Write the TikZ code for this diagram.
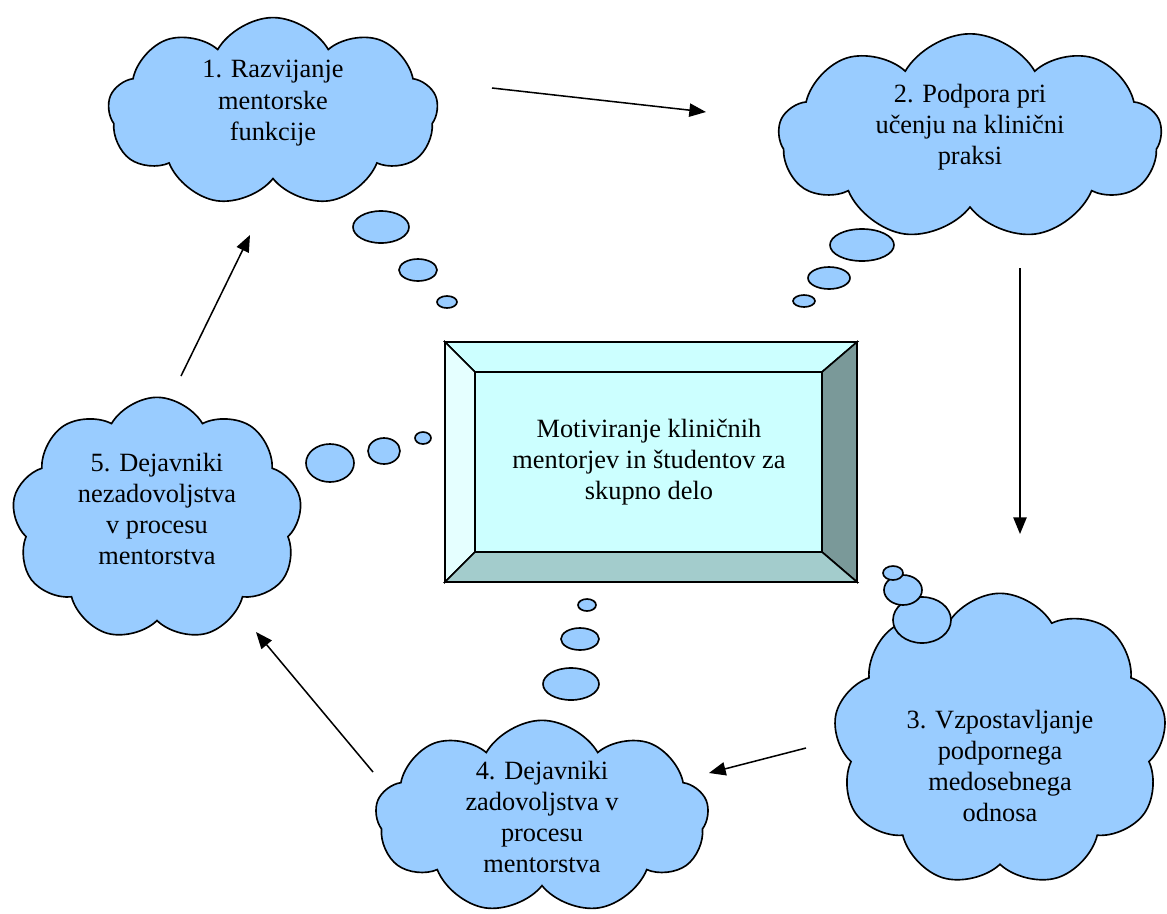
\documentclass[tikz,border=0pt]{standalone}
\usepackage{fontspec}
\setmainfont{Liberation Serif}
\usepackage{tikz}
\usetikzlibrary{arrows.meta,positioning,shapes.symbols,shapes.geometric}
\definecolor{cloudbg}{RGB}{153,204,255}
\definecolor{boxface}{RGB}{204,255,255}
\definecolor{boxleft}{RGB}{229,255,255}
\definecolor{boxright}{RGB}{122,153,153}
\definecolor{boxbottom}{RGB}{163,204,204}
\tikzset{
  thought/.style={
    cloud,
    cloud puffs=9,
    cloud puff arc=120,
    cloud ignores aspect,
    draw=black,
    fill=cloudbg,
    line width=1.4pt,
    align=center,
    font=\rmfamily\fontsize{22.5}{26.5}\selectfont
  },
  bubble/.style={draw=black, fill=cloudbg, line width=1.4pt},
  bevel/.style={draw=black, line width=1.4pt},
  arrow/.style={-{Triangle[length=5mm,width=4mm]}, line width=1.3pt}
}
\begin{document}
\begin{tikzpicture}[x=0.03cm, y=-0.03cm]
  \useasboundingbox (0,0) rectangle (1167,913);

  \coordinate (A) at (445,342);
  \coordinate (B) at (857,342);
  \coordinate (C) at (857,582);
  \coordinate (D) at (445,582);
  \coordinate (a) at (475,372);
  \coordinate (b) at (822,372);
  \coordinate (c) at (822,552);
  \coordinate (d) at (475,552);
  \filldraw[bevel, fill=boxface] (A) -- (B) -- (b) -- (a) -- cycle;
  \filldraw[bevel, fill=boxleft] (A) -- (a) -- (d) -- (D) -- cycle;
  \filldraw[bevel, fill=boxright] (B) -- (C) -- (c) -- (b) -- cycle;
  \filldraw[bevel, fill=boxbottom] (D) -- (C) -- (c) -- (d) -- cycle;
  \filldraw[bevel, fill=boxface] (a) rectangle (c);
  \node[align=center, font=\rmfamily\fontsize{22.5}{26.5}\selectfont] (motiv) at (649,462)
    {Motiviranje kliničnih\\mentorjev in študentov za\\skupno delo};

  \node[thought, minimum width=9.9cm, minimum height=5.6cm, text depth=20pt] (razv) at (273,112)
    {1. Razvijanje\\mentorske\\funkcije};
  \node[thought, minimum width=11.5cm, minimum height=5.7cm, text depth=22pt] (podp) at (970,137)
    {2. Podpora pri\\učenju na klinični\\praksi};
  \node[thought, minimum width=10cm, minimum height=8.8cm, text height=139pt] (odnos) at (1000,740)
    {3. Vzpostavljanje\\podpornega\\medosebnega\\odnosa};
  \node[thought, minimum width=10cm, minimum height=5.8cm, inner sep=0pt] (zad) at (542,817)
    {4. Dejavniki\\zadovoljstva v\\procesu\\mentorstva};
  \node[thought, minimum width=8.7cm, minimum height=7.3cm, text depth=17pt] (nezad) at (157,519)
    {5. Dejavniki\\nezadovoljstva\\v procesu\\mentorstva};

  \foreach \px/\py/\rx/\ry in {381/227/28/16, 418/270/19/11, 447/302/10/6,
      862/245/32/16, 829/278/21/11, 804/301/11/6,
      587/605/9/6, 580/639/19/11, 571/684/28/16,
      330/463/24/19, 384/451/16/13, 423/438/8/6,
      922/620/29/23, 903/590/19/15, 893/573/10/7}
    \filldraw[bubble] (\px,\py) ellipse [x radius=\rx*0.03cm, y radius=\ry*0.03cm];

  \coordinate (p1) at (492,88);
  \coordinate (p2) at (706,112);
  \coordinate (p3) at (1020,268);
  \coordinate (p4) at (1020,534);
  \coordinate (p5) at (806,748);
  \coordinate (p6) at (709,773);
  \coordinate (p7) at (373,772);
  \coordinate (p8) at (256,632);
  \coordinate (p9) at (181,376);
  \coordinate (p10) at (250,235);
  \draw[arrow] (p1) -- (p2);
  \draw[arrow] (p3) -- (p4);
  \draw[arrow] (p5) -- (p6);
  \draw[arrow] (p7) -- (p8);
  \draw[arrow] (p9) -- (p10);
\end{tikzpicture}
\end{document}
